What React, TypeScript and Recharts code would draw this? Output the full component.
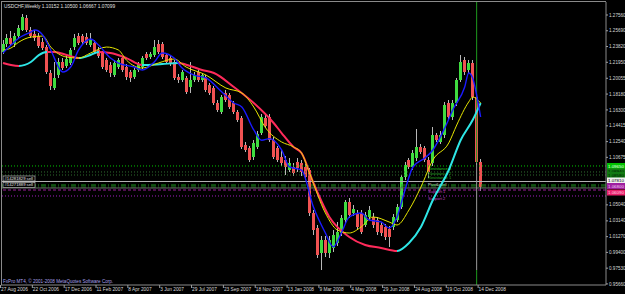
import React from 'react';
import { ComposedChart, Bar, Line, XAxis, YAxis, ReferenceLine } from 'recharts';

// USDCHF weekly candles, 27 Aug 2006 .. 14 Dec 2008 (121 bars)
const opens = [
  1.2317, 1.2411, 1.2483, 1.2411, 1.2506, 1.2578, 1.2720, 1.2578, 1.2530, 1.2506,
  1.2435, 1.2376, 1.2068, 1.1890, 1.2044, 1.2198, 1.2151, 1.2186, 1.2376, 1.2506,
  1.2506, 1.2494, 1.2399, 1.2423, 1.2341, 1.2305, 1.2222, 1.2162, 1.2044, 1.2139,
  1.2245, 1.2139, 1.2080, 1.2020, 1.2104, 1.2139, 1.2293, 1.2257, 1.2281, 1.2411,
  1.2411, 1.2281, 1.2245, 1.2198, 1.2020, 1.1985, 1.2009, 1.1902, 1.1985, 1.2080,
  1.1985, 1.2020, 1.1926, 1.1890, 1.1712, 1.1605, 1.1831, 1.1807, 1.1712, 1.1605,
  1.1534, 1.1214, 1.1179, 1.1072, 1.1191, 1.1356, 1.1534, 1.1546, 1.1273, 1.1179,
  1.1072, 1.1036, 1.0917, 1.0953, 1.1012, 1.1001, 1.0953, 1.0917, 1.0407, 1.0230,
  0.9933, 1.0087, 0.9933, 0.9993, 1.0052, 1.0170, 1.0324, 1.0538, 1.0407, 1.0407,
  1.0407, 1.0265, 1.0360, 1.0360, 1.0324, 1.0265, 1.0242, 1.0218, 1.0242, 1.0324,
  1.0478, 1.0835, 1.1036, 1.0953, 1.1060, 1.1191, 1.1179, 1.1036, 1.1001, 1.1333,
  1.1250, 1.1333, 1.1712, 1.1546, 1.1712, 1.1985, 1.2222, 1.2104, 1.2186, 1.1783,
  1.10152,
];
const highs = [
  1.2459, 1.2530, 1.2566, 1.2542, 1.2637, 1.2768, 1.2756, 1.2613, 1.2578, 1.2542,
  1.2483, 1.2399, 1.2104, 1.2198, 1.2245, 1.2245, 1.2269, 1.2364, 1.2530, 1.2542,
  1.2530, 1.2542, 1.2542, 1.2459, 1.2376, 1.2329, 1.2245, 1.2198, 1.2222, 1.2245,
  1.2269, 1.2174, 1.2104, 1.2127, 1.2198, 1.2269, 1.2317, 1.2317, 1.2459, 1.2459,
  1.2435, 1.2305, 1.2269, 1.2222, 1.2056, 1.2104, 1.2032, 1.2198, 1.2080, 1.2104,
  1.2068, 1.2044, 1.1949, 1.1914, 1.1748, 1.1807, 1.1866, 1.1831, 1.1736, 1.1629,
  1.1558, 1.1250, 1.1202, 1.1273, 1.1380, 1.1582, 1.1582, 1.1582, 1.1309, 1.1202,
  1.1155, 1.1084, 1.1060, 1.1001, 1.1060, 1.1036, 1.0989, 1.0941, 1.0443, 1.0265,
  1.0135, 1.0135, 1.0135, 1.0206, 1.0301, 1.0384, 1.0562, 1.0585, 1.0502, 1.0443,
  1.0443, 1.0419, 1.0490, 1.0407, 1.0360, 1.0301, 1.0277, 1.0253, 1.0395, 1.0514,
  1.0858, 1.1012, 1.1060, 1.1155, 1.1404, 1.1226, 1.1202, 1.1072, 1.1427, 1.1356,
  1.1380, 1.1724, 1.1748, 1.1748, 1.2009, 1.2281, 1.2257, 1.2222, 1.2222, 1.1819,
  1.10500,
];
const lows = [
  1.2293, 1.2376, 1.2387, 1.2376, 1.2483, 1.2566, 1.2554, 1.2483, 1.2447, 1.2364,
  1.2341, 1.2056, 1.1866, 1.1866, 1.2009, 1.2104, 1.2127, 1.2162, 1.2341, 1.2399,
  1.2411, 1.2399, 1.2376, 1.2293, 1.2245, 1.2115, 1.2080, 1.2020, 1.2020, 1.2115,
  1.2080, 1.1985, 1.1961, 1.1997, 1.2080, 1.2115, 1.2222, 1.2234, 1.2257, 1.2293,
  1.2234, 1.2174, 1.2151, 1.1985, 1.1949, 1.1961, 1.1819, 1.1831, 1.1961, 1.1961,
  1.1961, 1.1843, 1.1807, 1.1688, 1.1605, 1.1582, 1.1724, 1.1641, 1.1582, 1.1487,
  1.1167, 1.1131, 1.1012, 1.1036, 1.1167, 1.1333, 1.1416, 1.1250, 1.1048, 1.1012,
  1.0965, 1.0858, 1.0894, 1.0846, 1.0894, 1.0846, 1.0799, 1.0372, 1.0147, 0.9874,
  0.9731, 0.9886, 0.9874, 0.9945, 1.0016, 1.0135, 1.0289, 1.0348, 1.0372, 1.0206,
  1.0159, 1.0242, 1.0324, 1.0230, 1.0147, 1.0135, 1.0087, 1.0005, 1.0206, 1.0301,
  1.0455, 1.0799, 1.0929, 1.0917, 1.1024, 1.1107, 1.1012, 1.0823, 1.0965, 1.1250,
  1.1226, 1.1297, 1.1510, 1.1510, 1.1676, 1.1961, 1.2044, 1.2068, 1.1748, 1.0977,
  1.06667,
];
const closes = [
  1.2411, 1.2483, 1.2411, 1.2506, 1.2601, 1.2732, 1.2578, 1.2506, 1.2483, 1.2387,
  1.2364, 1.2080, 1.1914, 1.2009, 1.2198, 1.2127, 1.2234, 1.2341, 1.2483, 1.2423,
  1.2435, 1.2423, 1.2471, 1.2317, 1.2269, 1.2139, 1.2104, 1.2068, 1.2186, 1.2222,
  1.2104, 1.2020, 1.2009, 1.2104, 1.2174, 1.2245, 1.2245, 1.2293, 1.2376, 1.2317,
  1.2257, 1.2198, 1.2186, 1.2009, 1.1985, 1.2080, 1.1843, 1.1985, 1.2044, 1.1985,
  1.2044, 1.1866, 1.1831, 1.1712, 1.1629, 1.1783, 1.1748, 1.1665, 1.1605, 1.1510,
  1.1191, 1.1155, 1.1036, 1.1238, 1.1345, 1.1546, 1.1439, 1.1273, 1.1072, 1.1036,
  1.1001, 1.0953, 1.1001, 1.0882, 1.0941, 1.0894, 1.0835, 1.0407, 1.0206, 0.9909,
  1.0087, 0.9933, 1.0087, 1.0147, 1.0182, 1.0348, 1.0538, 1.0384, 1.0455, 1.0242,
  1.0182, 1.0384, 1.0443, 1.0265, 1.0182, 1.0170, 1.0123, 1.0123, 1.0360, 1.0478,
  1.0835, 1.0977, 1.0953, 1.1119, 1.1191, 1.1131, 1.1036, 1.0894, 1.1333, 1.1273,
  1.1333, 1.1688, 1.1546, 1.1712, 1.1985, 1.2198, 1.2080, 1.2186, 1.1783, 1.1012,
  1.07099,
];

// moving averages: [bar, price]
const fastMa: [number, number][] = [
  [0, 1.2305], [2, 1.2399], [4, 1.2483], [7, 1.2554], [8, 1.2578], [10, 1.2518], [12, 1.2341],
  [15, 1.2080], [17, 1.2139], [19, 1.2341], [22, 1.2471], [24, 1.2399], [27, 1.2245], [29, 1.2186],
  [33, 1.2139], [35, 1.2104], [38, 1.2198], [40, 1.2305], [43, 1.2245], [45, 1.2127], [48, 1.2044],
  [51, 1.2009], [55, 1.1843], [58, 1.1712], [60, 1.1665], [63, 1.1392], [65, 1.1270], [67, 1.1290],
  [70, 1.1155], [72, 1.0953], [75, 1.0917], [78, 1.0478], [81, 1.0170], [83, 1.0005], [85, 1.0170],
  [87, 1.0360], [90, 1.0407], [92, 1.0324], [95, 1.0301], [97, 1.0230], [99, 1.0360], [101, 1.0680],
  [103, 1.0953], [106, 1.1060], [108, 1.1155], [111, 1.1416], [113, 1.1629], [116, 1.1902],
  [117, 1.2068], [118, 1.2009], [119, 1.1807], [120, 1.1546],
];
const midMa: [number, number][] = [
  [0, 1.2341], [2, 1.2364], [4, 1.2435], [7, 1.2494], [10, 1.2506], [12, 1.2376], [16, 1.2257],
  [19, 1.2245], [22, 1.2305], [26, 1.2376], [29, 1.2341], [31, 1.2222], [35, 1.2127], [39, 1.2186],
  [43, 1.2234], [46, 1.2139], [51, 1.2044], [56, 1.1890], [60, 1.1831], [63, 1.1665], [66, 1.1416],
  [70, 1.1250], [73, 1.1191], [75, 1.1119], [77, 1.0882], [81, 1.0407], [84, 1.0206], [87, 1.0170],
  [90, 1.0242], [93, 1.0360], [97, 1.0301], [99, 1.0265], [102, 1.0443], [105, 1.0715], [108, 1.1036],
  [112, 1.1238], [114, 1.1451], [117, 1.1724], [118, 1.1783], [120, 1.1712],
];
const slowMa: [number, number][] = [
  [0, 1.2186], [2, 1.2162], [4, 1.2151], [7, 1.2198], [9, 1.2281], [11, 1.2317], [13, 1.2317],
  [16, 1.2281], [19, 1.2245], [22, 1.2281], [24, 1.2317], [27, 1.2305], [31, 1.2245], [35, 1.2162],
  [40, 1.2174], [44, 1.2186], [47, 1.2151], [50, 1.2104], [53, 1.2068], [58, 1.1902], [63, 1.1712],
  [68, 1.1475], [70, 1.1356], [73, 1.1191], [75, 1.1119], [78, 1.0763], [82, 1.0360], [87, 1.0123],
  [91, 1.0028], [95, 0.9993], [99, 0.9957], [102, 1.0052], [105, 1.0242], [108, 1.0562], [112, 1.0917],
  [115, 1.1273], [118, 1.1510], [120, 1.1712],
];
// bar spans where the slow average is rising (drawn cyan), elsewhere red
const slowRising = [[4, 11], [19, 24], [35, 44], [99, 120]];

const dateLabels = [
  '27 Aug 2006', '22 Oct 2006', '17 Dec 2006', '11 Feb 2007', '8 Apr 2007', '3 Jun 2007',
  '29 Jul 2007', '23 Sep 2007', '18 Nov 2007', '13 Jan 2008', '9 Mar 2008', '4 May 2008',
  '29 Jun 2008', '24 Aug 2008', '19 Oct 2008', '14 Dec 2008',
];
const DATE_STEP = 8;
const TOTAL_SLOTS = 152;

const PRICE_MIN = 0.95532;
const PRICE_MAX = 1.29102;
const priceTicks = [
  1.2756, 1.2569, 1.2382, 1.2195, 1.20055, 1.1818, 1.163, 1.14415, 1.1254, 1.10675,
  1.0504, 1.0314, 1.0127, 0.994, 0.9753, 0.9566,
];

// pivot / order levels
const levelPrices = [1.0965, 1.0894, 1.0858, 1.0781, 1.0739, 1.0716, 1.0704, 1.0680, 1.0609];
const levelNames = ['Resistance 3', 'Resistance 2', 'Resistance 1', 'PivotLevel', '', '', '', 'Support 1', 'Support 2'];
const levelTags = ['1.09650', '1.08940', '1.08580', '1.07810', '', '', '', '1.06800', '1.06090'];
const orderTags = ['', '', '', '#14281829 sell', '', '', '#14271889 sell', '', ''];
// vertical marker at bar 119: green, with a grey stretch in the middle
const markerBar = 119;
const markerBreaks = [PRICE_MAX, 1.1001, 0.9731, PRICE_MIN];

const W = 625;
const H = 294;
const UP = '#3fdc3f';
const DOWN = '#f05252';
const WICK = '#b8b8b8';
const RED = '#ff2a5a';
const CYAN = '#2ee6e6';
const FONT = '"Liberation Sans", Arial, sans-serif';
const markerColors = ['#1e9a1e', '#9a9a9a', '#1e9a1e'];

const levelStyles = [
  { stroke: '#00c800', dash: '1 2', tagFill: '#00c000', tagText: '#eaffea', name: '#22cc22', tagDy: 0, nameDy: 3.8 },
  { stroke: '#2e6e2e', dash: '1 2', tagFill: '#127a12', tagText: '#001a00', name: '#22aa22', tagDy: -0.5, nameDy: 2.6 },
  { stroke: '#2e6e2e', dash: '1 2', tagFill: '#127a12', tagText: '#001a00', name: '#22aa22', tagDy: 0, nameDy: 4.4 },
  { stroke: '#b4b4b4', dash: undefined, tagFill: '#f0f0f0', tagText: '#000000', name: '#e8e8e8', tagDy: -1, nameDy: 4.2 },
  { stroke: '#1f9a1f', dash: '5 2 1 2', tagFill: '', tagText: '', name: '', tagDy: 0, nameDy: 0 },
  { stroke: '#187018', dash: '5 2 1 2', tagFill: '', tagText: '', name: '', tagDy: 0, nameDy: 0 },
  { stroke: '#6a6a6a', dash: undefined, tagFill: '', tagText: '', name: '', tagDy: 0, nameDy: 0 },
  { stroke: '#9a1a9a', dash: '3 2', tagFill: '#a020a0', tagText: '#f0d0f0', name: '#c040c0', tagDy: -4, nameDy: 3.4 },
  { stroke: '#a020c0', dash: '1 2', tagFill: '#e8206a', tagText: '#ffd0e0', name: '#c040c0', tagDy: -3.5, nameDy: 4.4 },
];

const fastMap = new Map(fastMa);
const midMap = new Map(midMa);
const slowMap = new Map(slowMa);

const rows = Array.from({ length: TOTAL_SLOTS }, (_, i) => {
  const has = i < closes.length;
  return {
    i,
    range: has ? [lows[i], highs[i]] : null,
    open: has ? opens[i] : null,
    high: has ? highs[i] : null,
    low: has ? lows[i] : null,
    close: has ? closes[i] : null,
    fast: fastMap.get(i) ?? null,
    mid: midMap.get(i) ?? null,
    slow: slowMap.get(i) ?? null,
  };
});

function Candle(props: any) {
  const { x, y, width, height, payload } = props;
  if (!payload || payload.open == null || !height) return null;
  const { open, close, high, low } = payload;
  const top = Math.min(y, y + height);
  const h = Math.abs(height);
  const k = h / (high - low);
  const yo = top + (high - open) * k;
  const yc = top + (high - close) * k;
  const cx = Math.round(x + width / 2);
  const bodyTop = Math.min(yo, yc);
  const bodyH = Math.max(1, Math.abs(yc - yo));
  return (
    <g shapeRendering="crispEdges">
      <line x1={cx + 0.5} x2={cx + 0.5} y1={top} y2={top + h} stroke={WICK} strokeWidth={1} />
      <rect x={cx - 1} y={bodyTop} width={3} height={bodyH} fill={close >= open ? UP : DOWN} />
    </g>
  );
}

function DateTick(props: any) {
  const { x, y, payload } = props;
  const idx = Number(payload?.value);
  if (idx % DATE_STEP !== 0) return null;
  const label = dateLabels[idx / DATE_STEP];
  if (!label) return null;
  const tx = x - 3;
  return (
    <g>
      <line x1={tx + 0.5} x2={tx + 0.5} y1={y} y2={y + 3} stroke="#a0a0a0" />
      <text x={tx + 1} y={y + 6.2} fontSize={4.8} fill="#d8d8d8" fontFamily={FONT} textAnchor="start">
        {label}
      </text>
    </g>
  );
}

function levelLabel(k: number) {
  return (props: any) => {
    const vb = props.viewBox;
    if (!vb) return null;
    const { x, y, width } = vb;
    const st = levelStyles[k];
    return (
      <g>
        {orderTags[k] && (
          <g>
            <rect x={x + 2} y={y - 5.5} width={32} height={5} fill="#000" stroke="#d0d0d0" strokeWidth={0.6} />
            <text x={x + 3.5} y={y - 1.6} fontSize={4.2} fill="#e8e8e8" fontFamily={FONT}>{orderTags[k]}</text>
          </g>
        )}
        {levelNames[k] && (
          <text x={x + 427} y={y + st.nameDy} fontSize={4} fill={st.name} fontFamily={FONT}>{levelNames[k]}</text>
        )}
        {levelTags[k] && (
          <g>
            <rect x={x + width + 1} y={y + st.tagDy - 3} width={18} height={6} fill={st.tagFill} />
            <text x={x + width + 2} y={y + st.tagDy + 1.6} fontSize={4.4} fill={st.tagText} fontFamily={FONT}>
              {levelTags[k]}
            </text>
          </g>
        )}
      </g>
    );
  };
}

const lastBar = closes.length - 1;
const slowStops: { offset: number; color: string }[] = [];
{
  let cursor = 0;
  for (const [a, b] of slowRising) {
    if (a > cursor) {
      slowStops.push({ offset: cursor / lastBar, color: RED }, { offset: a / lastBar, color: RED });
    }
    slowStops.push({ offset: a / lastBar, color: CYAN }, { offset: b / lastBar, color: CYAN });
    cursor = b;
  }
  if (cursor < lastBar) {
    slowStops.push({ offset: cursor / lastBar, color: RED }, { offset: 1, color: RED });
  }
}

export default function App() {
  return (
    <div style={{ position: 'absolute', left: 0, top: 0, width: W, height: H, background: '#000', overflow: 'hidden' }}>
      <ComposedChart width={W} height={H} data={rows} margin={{ top: 2, right: 0, bottom: 0, left: 1 }}>
        <defs>
          <linearGradient id="slowGrad" x1="0" y1="0" x2="1" y2="0">
            {slowStops.map((s, n) => (
              <stop key={n} offset={s.offset} stopColor={s.color} />
            ))}
          </linearGradient>
        </defs>
        <XAxis
          dataKey="i"
          type="category"
          interval={DATE_STEP - 1}
          height={9}
          tickSize={0}
          tickMargin={0}
          tickLine={false}
          axisLine={{ stroke: '#8a8a8a' }}
          tick={<DateTick />}
        />
        <YAxis
          orientation="right"
          width={19}
          type="number"
          domain={[PRICE_MIN, PRICE_MAX]}
          allowDataOverflow
          ticks={priceTicks}
          interval={0}
          tickSize={2}
          tickMargin={1}
          tickLine={{ stroke: '#a0a0a0' }}
          axisLine={{ stroke: '#8a8a8a' }}
          tick={{ fontSize: 4.6, fill: '#d8d8d8', fontFamily: FONT }}
          tickFormatter={(v: number) => v.toFixed(5)}
        />
        {levelPrices.map((p, k) => (
          <ReferenceLine
            key={k}
            y={p}
            stroke={levelStyles[k].stroke}
            strokeDasharray={levelStyles[k].dash}
            strokeWidth={1}
            label={levelLabel(k)}
          />
        ))}
        {markerColors.map((c, n) => (
          <ReferenceLine
            key={`m${n}`}
            segment={[
              { x: markerBar, y: markerBreaks[n] },
              { x: markerBar, y: markerBreaks[n + 1] },
            ]}
            stroke={c}
            strokeWidth={1}
          />
        ))}
        <Bar dataKey="range" barSize={3} shape={<Candle />} isAnimationActive={false} />
        <Line dataKey="slow" type="monotone" connectNulls dot={false} stroke="url(#slowGrad)" strokeWidth={2} isAnimationActive={false} />
        <Line dataKey="mid" type="monotone" connectNulls dot={false} stroke="#e6e600" strokeWidth={1} isAnimationActive={false} />
        <Line dataKey="fast" type="monotone" connectNulls dot={false} stroke="#1a1aff" strokeWidth={1.4} isAnimationActive={false} />
      </ComposedChart>
      <div style={{ position: 'absolute', left: 1, top: 1, width: 605, height: 284, borderLeft: '1px solid #8a8a8a', borderTop: '1px solid #8a8a8a', pointerEvents: 'none', boxSizing: 'border-box' }} />
      <svg width={W} height={H} style={{ position: 'absolute', left: 0, top: 0, pointerEvents: 'none' }}>
        <text x={4} y={7.6} fontSize={4.8} fill="#e0e0e0" fontFamily={FONT}>
          USDCHF,Weekly  1.10152 1.10500 1.06667 1.07099
        </text>
        <text x={3} y={282.5} fontSize={4.6} fill="#a8a0e8" fontFamily={FONT}>
          FxPro MT4, © 2001-2008 MetaQuotes Software Corp.
        </text>
      </svg>
    </div>
  );
}
